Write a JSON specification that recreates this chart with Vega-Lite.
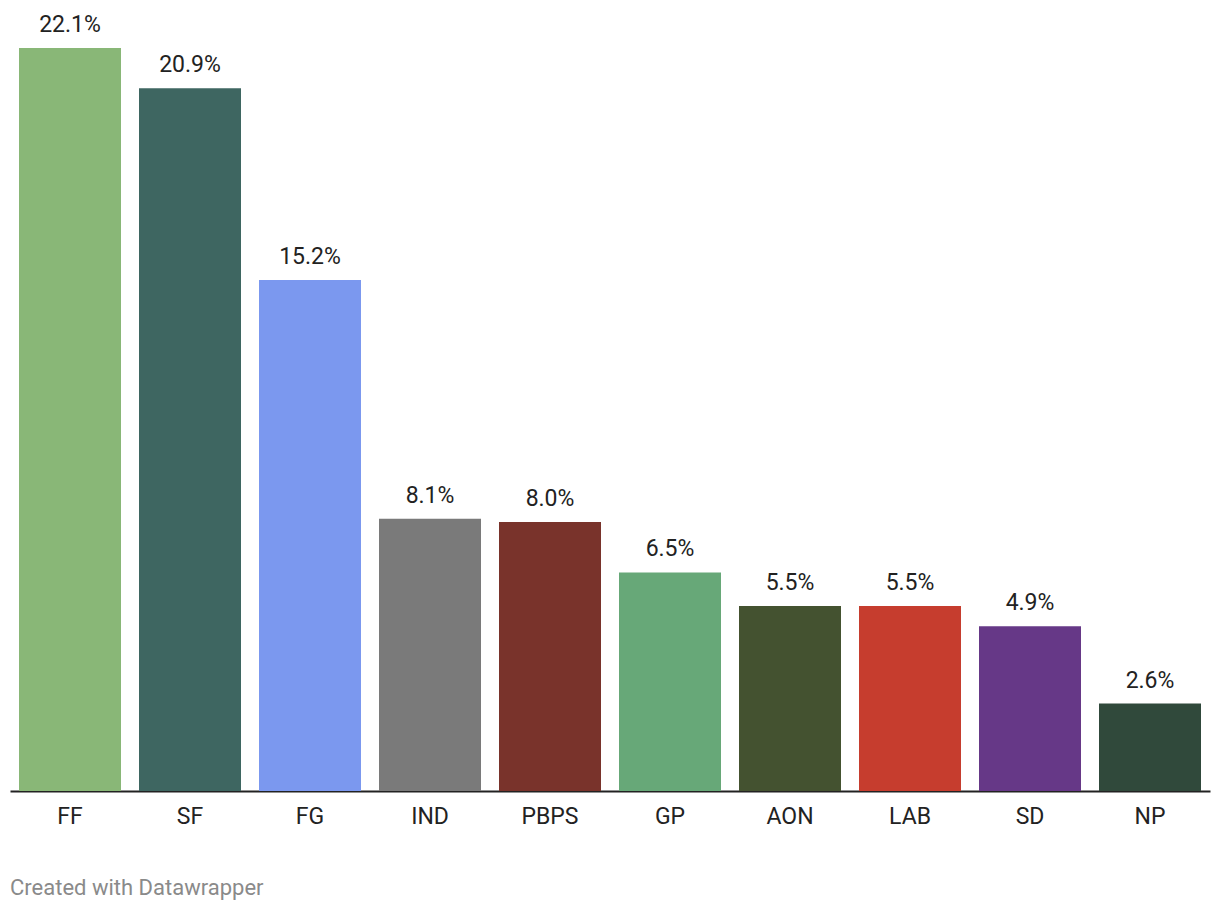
{
  "$schema": "https://vega.github.io/schema/vega-lite/v6.json",
  "width": 1200,
  "height": 743,
  "autosize": {"type": "none"},
  "padding": {"left": 10, "top": 48, "right": 10, "bottom": 121},
  "background": "white",
  "config": {
    "view": {"stroke": null},
    "font": "Roboto"
  },
  "title": {
    "text": "Created with Datawrapper",
    "orient": "bottom",
    "anchor": "start",
    "frame": "group",
    "offset": 67,
    "font": "Roboto",
    "fontSize": 22,
    "fontWeight": "normal",
    "color": "#8a8a8a",
    "baseline": "alphabetic"
  },
  "data": {
    "values": [
      {"party": "FF", "value": 22.1, "label": "22.1%"},
      {"party": "SF", "value": 20.9, "label": "20.9%"},
      {"party": "FG", "value": 15.2, "label": "15.2%"},
      {"party": "IND", "value": 8.1, "label": "8.1%"},
      {"party": "PBPS", "value": 8.0, "label": "8.0%"},
      {"party": "GP", "value": 6.5, "label": "6.5%"},
      {"party": "AON", "value": 5.5, "label": "5.5%"},
      {"party": "LAB", "value": 5.5, "label": "5.5%"},
      {"party": "SD", "value": 4.9, "label": "4.9%"},
      {"party": "NP", "value": 2.6, "label": "2.6%"}
    ]
  },
  "encoding": {
    "x": {
      "field": "party",
      "type": "nominal",
      "sort": null,
      "scale": {"paddingInner": 0.15, "paddingOuter": 0.075},
      "axis": {
        "title": null,
        "labelAngle": 0,
        "ticks": false,
        "labelFont": "Roboto",
        "labelFontSize": 23,
        "labelColor": "#222222",
        "labelBaseline": "alphabetic",
        "labelPadding": 32,
        "domainColor": "#222222",
        "domainWidth": 2
      }
    },
    "y": {
      "field": "value",
      "type": "quantitative",
      "scale": {"domain": [0, 22.1], "nice": false},
      "axis": null
    }
  },
  "layer": [
    {
      "mark": {"type": "bar"},
      "encoding": {
        "color": {
          "field": "party",
          "type": "nominal",
          "scale": {
            "domain": ["FF", "SF", "FG", "IND", "PBPS", "GP", "AON", "LAB", "SD", "NP"],
            "range": ["#89b777", "#3e6661", "#7b98ef", "#7a7a7a", "#79332b", "#67a878", "#445230", "#c63d2e", "#663887", "#30493b"]
          },
          "legend": null
        }
      }
    },
    {
      "mark": {"type": "text", "dy": -16, "baseline": "alphabetic", "align": "center", "font": "Roboto", "fontSize": 23, "color": "#222222"},
      "encoding": {
        "text": {"field": "label", "type": "nominal"}
      }
    }
  ]
}
